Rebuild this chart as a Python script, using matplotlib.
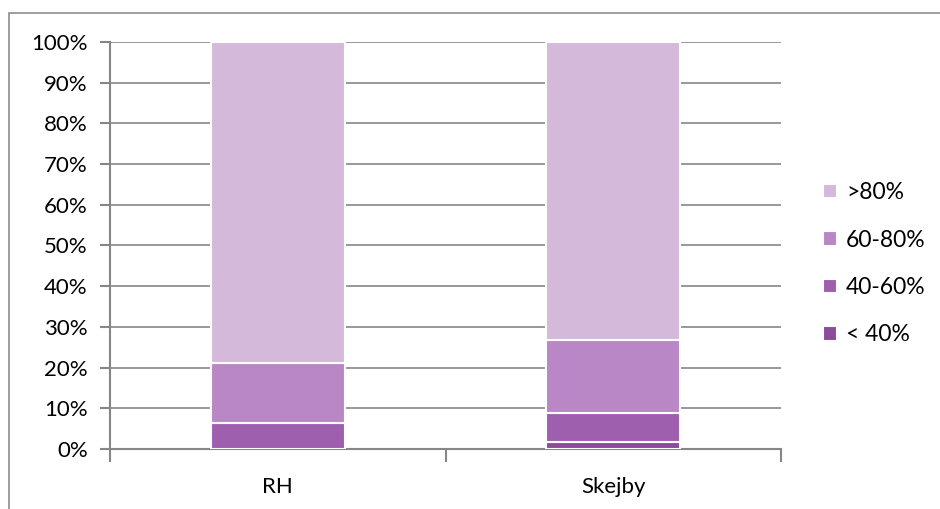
import matplotlib.pyplot as plt
from matplotlib.patches import Rectangle
from matplotlib.ticker import PercentFormatter

# Share of cases per band, per site (percent)
sites = ["RH", "Skejby"]
bands = ["< 40%", "40-60%", "60-80%", ">80%"]
below_40 = [0.0, 1.6]
from_40_to_60 = [6.4, 7.2]
from_60_to_80 = [14.7, 18.0]
above_80 = [78.9, 73.2]
series = [below_40, from_40_to_60, from_60_to_80, above_80]
colors = ["#8b4c9b", "#9e5fae", "#b987c5", "#d4b9db"]

plt.rcParams["font.family"] = ["Lato", "DejaVu Sans"]

fig = plt.figure(figsize=(9.4, 5.09), dpi=100)
ax = fig.add_axes([0.117, 0.118, 0.714, 0.7995])

# outer chart frame (left and top edges visible)
fig.patches.append(Rectangle((9 / 940, -0.1), 1.2, (509 - 13) / 509 + 0.1,
                             transform=fig.transFigure, fill=False,
                             edgecolor="#8c8c8c", linewidth=1.2))

x = range(len(sites))
bottom = [0.0] * len(sites)
handles = []
for vals, color, label in zip(series, colors, bands):
    bars = ax.bar(x, vals, width=0.4, bottom=bottom, color=color,
                  edgecolor="white", linewidth=1.5, label=label, zorder=3)
    handles.append(bars)
    bottom = [b + v for b, v in zip(bottom, vals)]

ax.set_xlim(-0.5, 1.5)
ax.set_ylim(0, 100)
ax.set_yticks(range(0, 101, 10))
ax.yaxis.set_major_formatter(PercentFormatter(decimals=0))
ax.set_xticks([-0.5, 0.5, 1.5])
ax.set_xticklabels([])
ax.set_xticks(list(x), labels=sites, minor=True)
ax.tick_params(axis="x", which="minor", length=0, pad=20, labelsize=16)
ax.tick_params(axis="x", which="major", length=9, width=1.5, color="#868686")
ax.tick_params(axis="y", length=7, width=1.5, color="#868686", labelsize=16, pad=9)

ax.grid(axis="y", color="#868686", linewidth=1.2, zorder=0)
for side in ["top", "right"]:
    ax.spines[side].set_visible(False)
for side in ["left", "bottom"]:
    ax.spines[side].set_color("#868686")
    ax.spines[side].set_linewidth(1.5)

leg = ax.legend(handles[::-1], bands[::-1], loc="center left",
                bbox_to_anchor=(1.032, 0.455), frameon=False, fontsize=16.5,
                handlelength=0.6, handleheight=0.6, handletextpad=0.4,
                labelspacing=1.15)
for h in leg.legend_handles:
    h.set_edgecolor("white")

fig.savefig("out.png", dpi=100)
